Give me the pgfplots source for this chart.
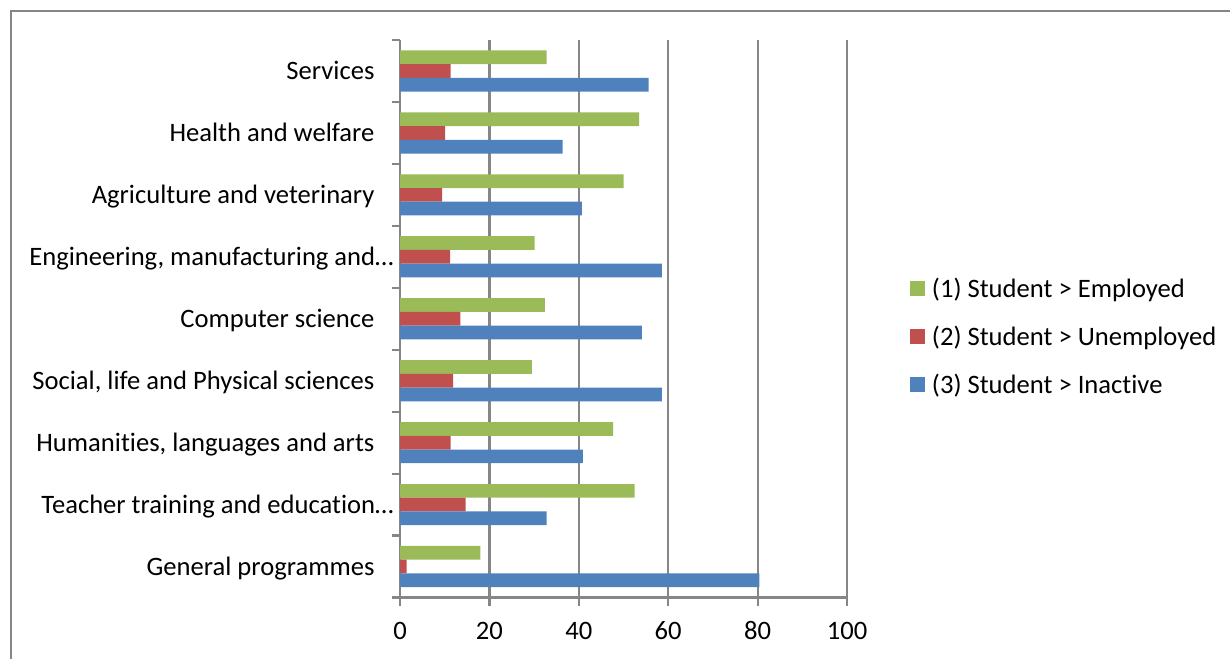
\documentclass[border=0pt]{standalone}
\usepackage{fontspec}
\setmainfont{Carlito}[Ligatures={NoCommon}]
\usepackage{pgfplots}
\pgfplotsset{compat=1.18}
\definecolor{empgreen}{HTML}{9BBB59}
\definecolor{unred}{HTML}{C0504D}
\definecolor{inblue}{HTML}{4F81BD}
\definecolor{axisgray}{HTML}{868686}
\newcommand\gap{\hspace*{9.6pt}}
\newcommand\lblfont{\fontsize{13.3}{16}\selectfont}
\begin{document}
\begin{tikzpicture}
\path[use as bounding box] (0,0) rectangle (615pt,329.5pt);
\draw[axisgray, line width=1.1pt] (5.5pt,0) -- (5.5pt,324pt) -- (615pt,324pt);
\begin{axis}[
  at={(200pt,30.75pt)}, anchor=south west,
  scale only axis, width=223.5pt, height=278.75pt,
  xbar, bar width=0.2215,
  xmin=0, xmax=100, ymin=-0.5, ymax=8.5,
  axis x line*=bottom, axis y line*=left,
  axis line style={draw=axisgray, line width=1.1pt, -},
  xmajorgrids, grid style={draw=axisgray, line width=1.1pt},
  xtick={0,20,...,100},
  ytick={0,...,8},
  minor ytick={-0.5,0.5,...,8.5},
  yticklabels={{General programmes\gap}, {Teacher training and education…},
    {Humanities, languages and arts\gap}, {Social, life and Physical sciences\gap},
    {Computer science\gap}, {Engineering, manufacturing and…},
    {Agriculture and veterinary\gap}, {Health and welfare\gap}, {Services\gap}},
  tick align=outside,
  major tick length=4pt, minor tick length=4pt,
  tick style={draw=axisgray, line width=1.1pt},
  every major y tick/.append style={draw=none},
  tick label style={font=\lblfont},
  /pgf/number format/assume math mode=true,
  xticklabel style={anchor=base, inner sep=0pt, yshift=-17pt},
  yticklabel style={anchor=base east, inner sep=0pt, xshift=1pt, yshift=-4.28pt},
  legend style={at={(1.1409,0.467)}, anchor=west, draw=none, fill=none,
    inner sep=0pt, outer sep=0pt, row sep=12.85pt, column sep=3.5pt,
    nodes={inner sep=0pt}, font=\lblfont},
  legend cell align=left,
  legend image code/.code={\fill[#1] (0pt,-3.5pt) rectangle (7.5pt,4pt);},
]
\addplot[fill=empgreen, draw=none, bar shift=0.2215] coordinates {
  (18.0,0) (52.5,1) (47.7,2) (29.5,3) (32.4,4) (30.1,5) (50.0,6) (53.5,7) (32.8,8)};
\addplot[fill=unred, draw=none, bar shift=0] coordinates {
  (1.5,0) (14.7,1) (11.3,2) (11.9,3) (13.5,4) (11.2,5) (9.4,6) (10.1,7) (11.3,8)};
\addplot[fill=inblue, draw=none, bar shift=-0.2215] coordinates {
  (80.4,0) (32.8,1) (40.9,2) (58.6,3) (54.1,4) (58.6,5) (40.7,6) (36.4,7) (55.6,8)};
\legend{(1) Student > Employed, (2) Student > Unemployed, (3) Student > Inactive}
\end{axis}
\end{tikzpicture}
\end{document}
